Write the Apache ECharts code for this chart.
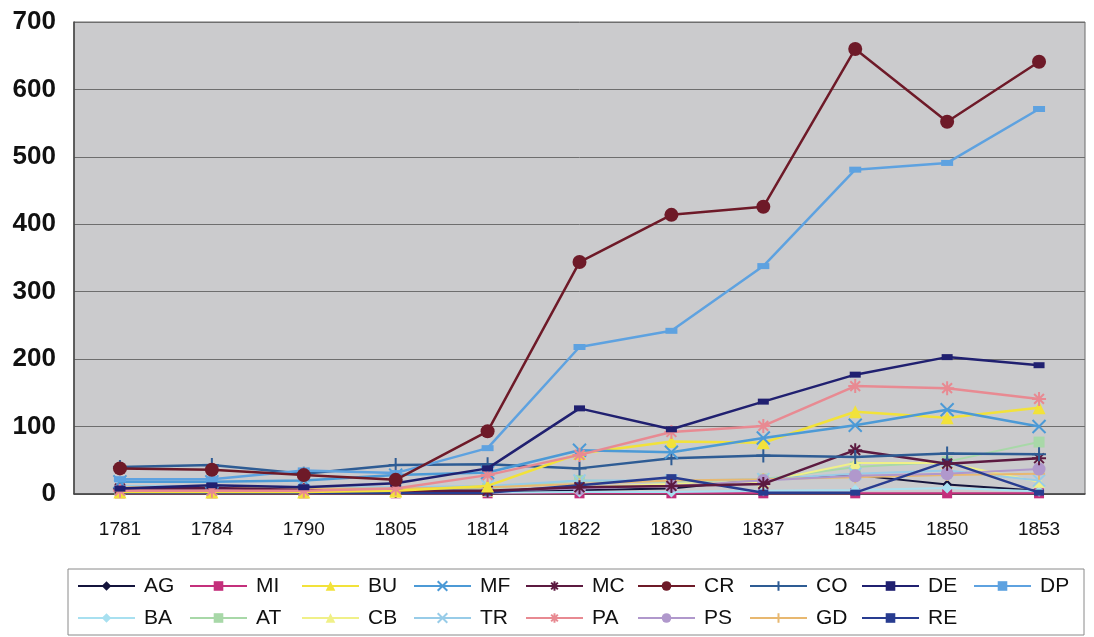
<!DOCTYPE html>
<html><head><meta charset="utf-8">
<script src="https://cdn.jsdelivr.net/npm/echarts@6/dist/echarts.min.js"></script>
<style>html,body{margin:0;padding:0;background:#fff}#c{width:1094px;height:637px}</style>
</head><body><div id="c"></div>
<script>
const years = ['1781','1784','1790','1805','1814','1822','1830','1837','1845','1850','1853'];
const yTicks = [0,100,200,300,400,500,600,700];
const AG = [4,8,5,4,3,6,8,22,28,14,5];
const MI = [1,1,1,1,1,1,1,1,1,1,1];
const BU = [3,3,3,5,12,60,78,76,122,113,128];
const MF = [18,18,20,28,32,65,62,83,102,125,100];
const MC = [8,9,6,5,5,10,12,15,65,45,53];
const CR = [38,36,28,21,93,344,414,426,660,552,641];
const CO = [40,43,30,43,44,38,53,57,55,60,59];
const DE = [8,13,10,16,38,127,96,137,177,203,191];
const DP = [22,22,35,31,68,218,242,338,481,491,571];
const BA = [2,2,2,2,2,3,3,5,6,9,4];
const AT = [5,5,5,5,8,20,18,22,40,48,77];
const CB = [3,3,3,3,5,10,15,18,46,46,18];
const TR = [12,12,10,10,12,20,20,22,30,35,20];
const PA = [5,5,5,8,28,58,92,101,160,157,141];
const PS = [8,8,6,5,5,8,12,20,27,30,37];
const GD = [10,10,8,8,10,15,20,22,25,28,30];
const RE = [2,2,2,2,2,13,25,2,2,48,2];

const X = 'path://M0,0L10,10M10,0L0,10';
const AST = 'path://M0,5L10,5M5,0L5,10M1.5,1.5L8.5,8.5M8.5,1.5L1.5,8.5';
const PLUS = 'path://M5,0L5,10M0,5L10,5';

const defs = [
  ['AG', AG, '#14143c', 'diamond', 10, false, 2],
  ['MI', MI, '#c4307c', 'rect', 10, false, 2],
  ['BU', BU, '#f2e23a', 'triangle', 13, false, 2.5],
  ['MF', MF, '#4c9ad6', X, 13, true, 2.5],
  ['MC', MC, '#5c1a40', AST, 14, true, 2.5],
  ['CR', CR, '#6e1a28', 'circle', 14, false, 2.5],
  ['CO', CO, '#2e5c94', PLUS, 14, true, 2.5],
  ['DE', DE, '#202070', 'rect', [11,6], false, 2.5],
  ['DP', DP, '#5ea2e0', 'rect', [12,6], false, 2.5],
  ['BA', BA, '#a8e0f0', 'diamond', 11, false, 2],
  ['AT', AT, '#a8d8a8', 'rect', 11, false, 2],
  ['CB', CB, '#f0f088', 'triangle', 12, false, 2],
  ['TR', TR, '#98cce8', X, 12, true, 2],
  ['PA', PA, '#e88a92', AST, 14, true, 2.5],
  ['PS', PS, '#b098cc', 'circle', 13, false, 2],
  ['GD', GD, '#e8b870', PLUS, 12, true, 2],
  ['RE', RE, '#283c90', 'rect', [10,6], false, 2.5]
];

const series = defs.map(d => ({
  name: d[0], type: 'line', data: d[1],
  symbol: d[3], symbolSize: d[4], showAllSymbol: true,
  lineStyle: { color: d[2], width: d[6] },
  itemStyle: d[5] ? { color: 'rgba(0,0,0,0)', borderColor: d[2], borderWidth: 2 } : { color: d[2], borderWidth: 0 },
  emphasis: { disabled: true },
  animation: false
}));
const order = ['AG','MI','BA','AT','CB','TR','GD','PS','RE','MC','CO','BU','MF','PA','DE','DP','CR'];
series.forEach(s => { s.z = 2 + order.indexOf(s.name) * 0.01; });

const FONT = 'Liberation Sans, Arial, sans-serif';
const chart = echarts.init(document.getElementById('c'), null, { renderer: 'canvas' });
chart.setOption({
  backgroundColor: '#ffffff',
  animation: false,
  textStyle: { fontFamily: FONT },
  grid: { left: 74, right: 9, top: 22, bottom: 143, show: true, backgroundColor: '#cbcbcd', borderColor: '#6a6a6a', borderWidth: 1 },
  xAxis: {
    type: 'category', data: years, boundaryGap: true,
    axisLine: { lineStyle: { color: '#444', width: 1.5 } },
    axisTick: { show: false },
    axisLabel: { color: '#111', fontSize: 19, margin: 26, fontFamily: FONT }
  },
  yAxis: {
    type: 'value', min: yTicks[0], max: yTicks[yTicks.length-1], interval: 100,
    axisLine: { show: true, lineStyle: { color: '#444', width: 1.5 } },
    axisTick: { show: false },
    splitLine: { lineStyle: { color: '#6e6e6e', width: 1 } },
    axisLabel: { color: '#111', fontSize: 26, fontWeight: 'bold', margin: 18, fontFamily: FONT }
  },
  legend: {
    left: 68, top: 569, width: 1060,
    orient: 'horizontal',
    itemWidth: 57, itemHeight: 12, itemGap: 4,
    padding: [3, 3, 3, 9],
    borderColor: '#8a8a8a', borderWidth: 1,
    textStyle: { fontSize: 21, color: '#111', width: 41, overflow: 'truncate', lineHeight: 28, padding: [0,0,0,4], fontFamily: FONT },
    data: defs.map(d => d[0])
  },
  series: series
});
</script></body></html>
